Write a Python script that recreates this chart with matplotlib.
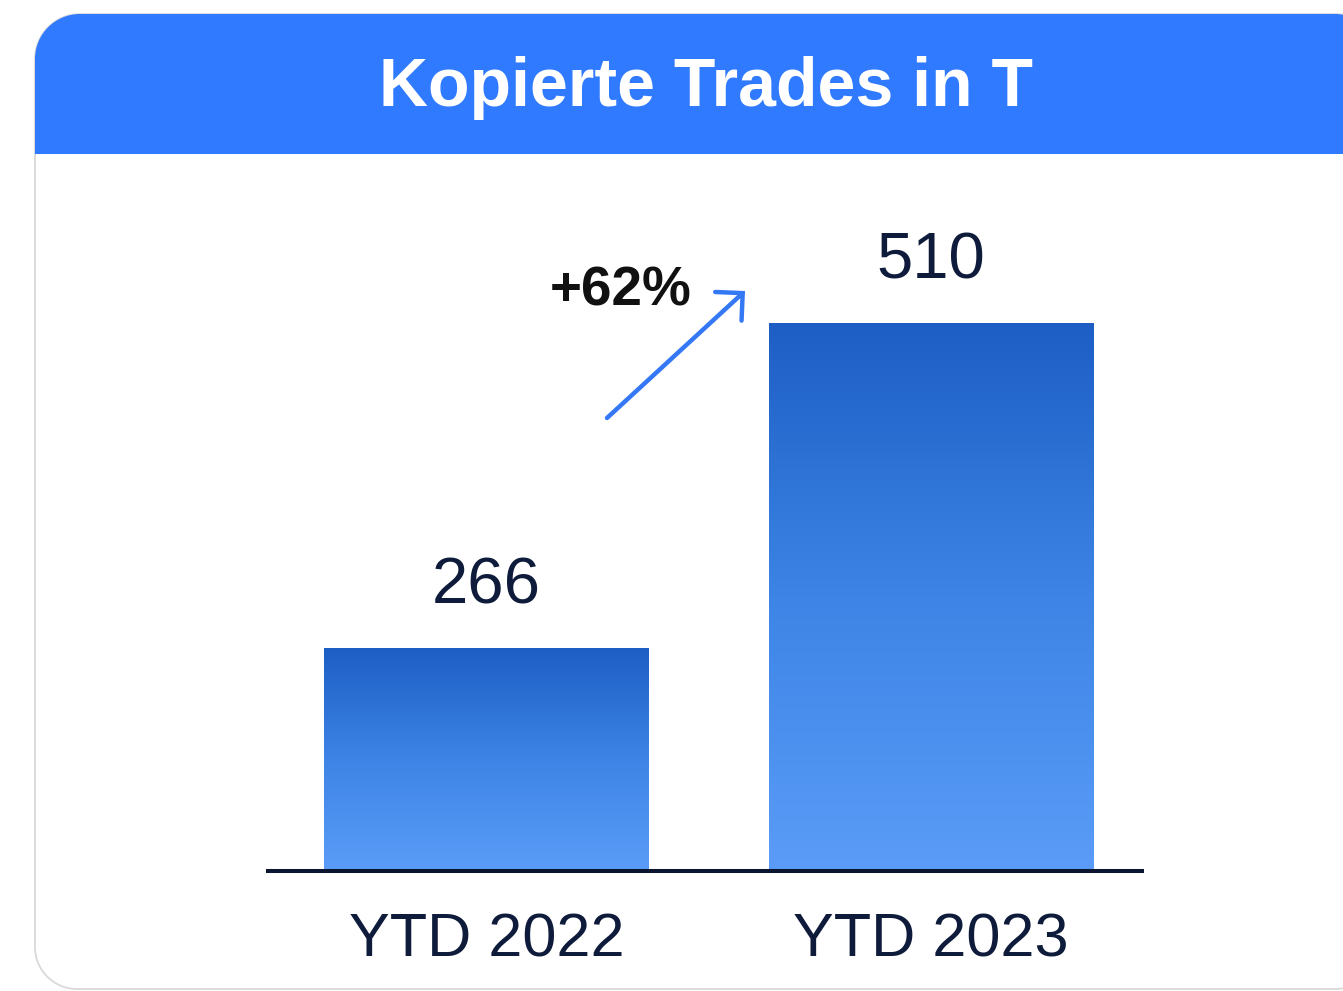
import numpy as np
import matplotlib
matplotlib.use("Agg")
import matplotlib.pyplot as plt
from matplotlib.path import Path
from matplotlib.patches import PathPatch
from matplotlib.colors import LinearSegmentedColormap

# ---- data ----
categories = ["YTD 2022", "YTD 2023"]
values = [266, 510]
value_labels = ["266", "510"]
title = "Kopierte Trades in T"
growth_label = "+62%"

W, H = 1343, 991
DPI = 100
plt.rcParams['font.family'] = ['Liberation Sans', 'DejaVu Sans']

fig = plt.figure(figsize=(W / DPI, H / DPI), dpi=DPI)
fig.patch.set_facecolor("white")

# background / card layer in pixel coordinates
bg = fig.add_axes([0, 0, 1, 1], zorder=0)
bg.set_xlim(0, W)
bg.set_ylim(H, 0)
bg.axis("off")

def rounded_path(x0, y0, x1, y1, r_tl, r_tr, r_br, r_bl):
    k = 0.5523
    verts = []
    codes = []
    def move(p):
        verts.append(p); codes.append(Path.MOVETO)
    def line(p):
        verts.append(p); codes.append(Path.LINETO)
    def curve(c1, c2, p):
        verts.extend([c1, c2, p]); codes.extend([Path.CURVE4] * 3)
    move((x0, y0 + r_tl))
    curve((x0, y0 + r_tl * (1 - k)), (x0 + r_tl * (1 - k), y0), (x0 + r_tl, y0))
    line((x1 - r_tr, y0))
    curve((x1 - r_tr * (1 - k), y0), (x1, y0 + r_tr * (1 - k)), (x1, y0 + r_tr))
    line((x1, y1 - r_br))
    curve((x1, y1 - r_br * (1 - k)), (x1 - r_br * (1 - k), y1), (x1 - r_br, y1))
    line((x0 + r_bl, y1))
    curve((x0 + r_bl * (1 - k), y1), (x0, y1 - r_bl * (1 - k)), (x0, y1 - r_bl))
    verts.append((x0, y0 + r_tl)); codes.append(Path.CLOSEPOLY)
    return Path(verts, codes)

# card body
card = PathPatch(rounded_path(35, 14, 1380, 989, 45, 45, 45, 42),
                 facecolor="white", edgecolor="#d9d9d9", lw=1.3)
bg.add_patch(card)
# header
header = PathPatch(rounded_path(35, 14, 1380, 154, 45, 45, 0, 0),
                   facecolor="#307AFF", edgecolor="none")
bg.add_patch(header)
bg.text(706, 88, title, color="white", fontsize=49, fontweight="bold",
        ha="center", va="center")

# growth label and arrow
bg.text(550, 305, growth_label, color="#111111", fontsize=39.5, fontweight="bold",
        ha="left", va="baseline")
bg.annotate("", xy=(745, 291), xytext=(607, 418),
            arrowprops=dict(arrowstyle="->,head_length=0.7,head_width=0.7",
                            mutation_scale=20, color="#3478F5", lw=3.2,
                            shrinkA=0, shrinkB=0, capstyle="round",
                            joinstyle="miter"))

# ---- bar chart axes ----
ax_left, ax_right = 268, 1142
ax_top, ax_bottom = 200, 870.5
ax = fig.add_axes([ax_left / W, 1 - ax_bottom / H,
                   (ax_right - ax_left) / W, (ax_bottom - ax_top) / H], zorder=1)
ax.patch.set_alpha(0)

x = np.arange(len(categories))
bars = ax.bar(x, values, width=0.731, color="none", edgecolor="none")
ax.set_xlim(-0.492, 1.475)
ymin, ymax = 99.3, 602.7
ax.set_ylim(ymin, ymax)

cmap = LinearSegmentedColormap.from_list("bar", ["#5A9CF7", "#3D84E6", "#1D5EC4"])
grad = np.linspace(0, 1, 256).reshape(-1, 1)
for b in bars:
    bx, bw, bh = b.get_x(), b.get_width(), b.get_height()
    im = ax.imshow(grad, cmap=cmap, origin="lower", aspect="auto",
                   extent=[bx, bx + bw, ymin, bh], zorder=2)
    im.set_clip_path(b)

for xi, v, lab in zip(x, values, value_labels):
    ax.annotate(lab, xy=(xi, v), xytext=(0, 32.5), textcoords="offset points",
                ha="center", va="baseline", fontsize=47, color="#0E1B3B")

for s in ["top", "right", "left"]:
    ax.spines[s].set_visible(False)
ax.spines["bottom"].set_color("#0B1530")
ax.spines["bottom"].set_linewidth(2.9)
ax.spines["bottom"].set_zorder(3)
ax.set_yticks([])
ax.set_xticks(x)
ax.set_xticklabels(categories, fontsize=44, color="#0E1B3B")
ax.tick_params(axis="x", length=0, pad=30.5)

fig.savefig("out.png", dpi=DPI, facecolor="white")
